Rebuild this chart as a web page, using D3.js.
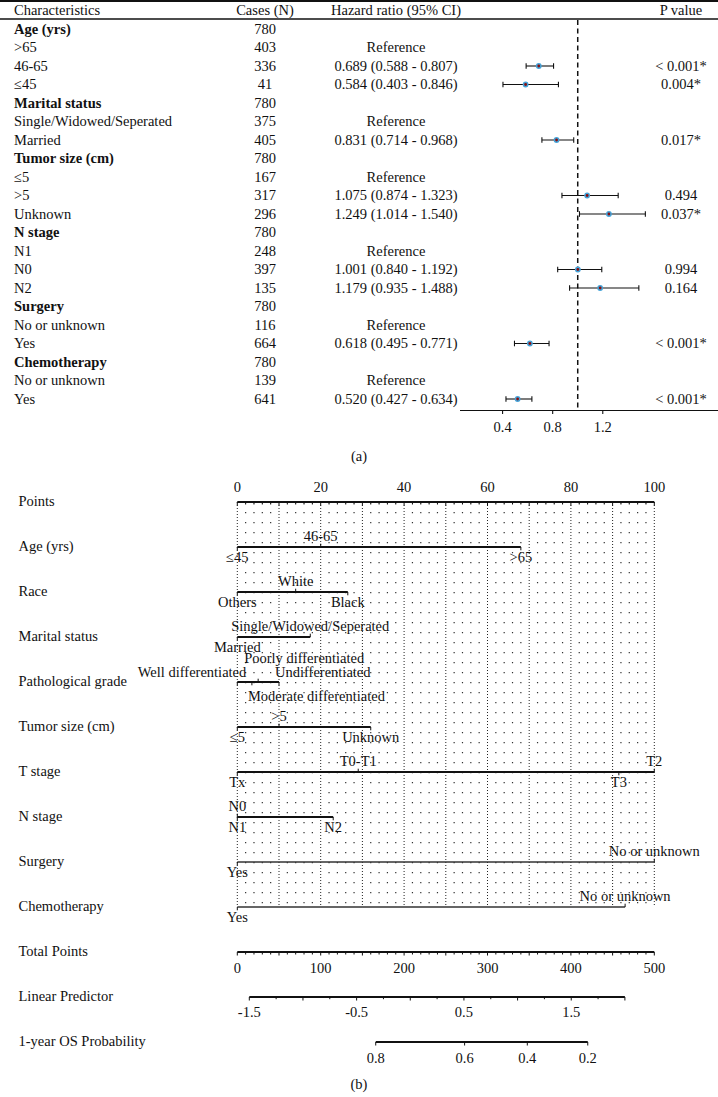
<!DOCTYPE html>
<html><head><meta charset="utf-8">
<script src="https://cdn.jsdelivr.net/npm/d3@7"></script>
<style>
html,body{margin:0;padding:0;background:#fff;}
svg{display:block;font-family:"Liberation Serif","Times New Roman",serif;}
</style></head><body>
<svg id="chart" width="718" height="1097"></svg>
<script>
// ================= DATA: (a) forest plot =================
const characteristics = ["Age (yrs)", ">65", "46-65", "≤45", "Marital status", "Single/Widowed/Seperated", "Married",
  "Tumor size (cm)", "≤5", ">5", "Unknown", "N stage", "N1", "N0", "N2", "Surgery", "No or unknown", "Yes",
  "Chemotherapy", "No or unknown", "Yes"];
const isGroupHeader = [true,false,false,false,true,false,false,true,false,false,false,true,false,false,false,true,false,false,true,false,false];
const cases = [780,403,336,41,780,375,405,780,167,317,296,780,248,397,135,780,116,664,780,139,641];
const hazardRatio = [null,null,0.689,0.584,null,null,0.831,null,null,1.075,1.249,null,null,1.001,1.179,null,null,0.618,null,null,0.520];
const ciLower =     [null,null,0.588,0.403,null,null,0.714,null,null,0.874,1.014,null,null,0.840,0.935,null,null,0.495,null,null,0.427];
const ciUpper =     [null,null,0.807,0.846,null,null,0.968,null,null,1.323,1.540,null,null,1.192,1.488,null,null,0.771,null,null,0.634];
const pValues = ["","","< 0.001*","0.004*","","","0.017*","","","0.494","0.037*","","","0.994","0.164","","","< 0.001*","","","< 0.001*"];
const forestTicks = [0.4, 0.8, 1.2];
const forestRefLine = 1;

// ================= DATA: (b) nomogram =================
const nomoVariables = ["Age (yrs)","Race","Marital status","Pathological grade","Tumor size (cm)","T stage","N stage","Surgery","Chemotherapy"];
const nomoLevels = [
  ["≤45","46-65",">65"],
  ["Others","White","Black"],
  ["Married","Single/Widowed/Seperated"],
  ["Well differentiated","Moderate differentiated","Poorly differentiated","Undifferentiated"],
  ["≤5",">5","Unknown"],
  ["Tx","T0-T1","T3","T2"],
  ["N1","N0","N2"],
  ["Yes","No or unknown"],
  ["Yes","No or unknown"]
];
const nomoPoints = [
  [0,20,68],
  [0,14,26.5],
  [0,17.5],
  [0,3.5,5,10],
  [0,10,32],
  [0,29,91.5,100],
  [0,0,23],
  [0,100],
  [0,93]
];
const pointsTicks = [0,20,40,60,80,100];
const totalPointsTicks = [0,100,200,300,400,500];
const linearPredictorTicks = [-1.5,-0.5,0.5,1.5];
const linearPredictorRange = [-1.5, 2.0];
const osProbTicks = [0.8,0.6,0.4,0.2];
const osLinearOffset = 1.178; // LP = log(-log(S)) + offset

// ================= DRAW =================
const svg = d3.select("#chart");
const FS = 14.5;
const ink = "#111";

function txt(g, x, y, s, anchor, bold) {
  return g.append("text").attr("x", x).attr("y", y).attr("text-anchor", anchor || "start")
    .attr("font-size", FS).attr("fill", ink).attr("font-weight", bold ? "bold" : "normal").text(s);
}

// ---------- (a) ----------
const gA = svg.append("g");
const xF = d3.scaleLinear().domain([0.06, 2.12]).range([460, 718]);
const rowBase = i => 33.5 + 18.5 * i;
const colChar = 14, colCases = 265, colHR = 396, colP = 681;

gA.append("line").attr("x1",0).attr("x2",718).attr("y1",1).attr("y2",1).attr("stroke",ink).attr("stroke-width",2);
gA.append("line").attr("x1",0).attr("x2",718).attr("y1",19).attr("y2",19).attr("stroke",ink).attr("stroke-width",1.5);
txt(gA, colChar, 15, "Characteristics");
txt(gA, colCases, 15, "Cases (N)", "middle");
txt(gA, colHR, 15, "Hazard ratio (95% CI)", "middle");
txt(gA, colP, 15, "P value", "middle");

const fmt = d3.format(".3f");
characteristics.forEach((c, i) => {
  const y = rowBase(i);
  txt(gA, colChar, y, c, "start", isGroupHeader[i]);
  txt(gA, colCases, y, String(cases[i]), "middle");
  if (!isGroupHeader[i]) {
    const s = hazardRatio[i] == null ? "Reference" :
      `${fmt(hazardRatio[i])} (${fmt(ciLower[i])} - ${fmt(ciUpper[i])})`;
    txt(gA, colHR, y, s, "middle");
  }
  if (pValues[i]) txt(gA, colP, y, pValues[i], "middle");
});

// reference dashed line
gA.append("line").attr("x1", xF(forestRefLine)).attr("x2", xF(forestRefLine))
  .attr("y1", 20).attr("y2", 410.5).attr("stroke", ink).attr("stroke-width", 1.5)
  .attr("stroke-dasharray", "5,3.5");

// CI bars & points
characteristics.forEach((c, i) => {
  if (hazardRatio[i] == null) return;
  const cy = rowBase(i) - 4.5;
  const g = gA.append("g");
  g.append("line").attr("x1", xF(ciLower[i])).attr("x2", xF(ciUpper[i])).attr("y1", cy).attr("y2", cy)
    .attr("stroke", ink).attr("stroke-width", 1.1);
  [ciLower[i], ciUpper[i]].forEach(v => g.append("line").attr("x1", xF(v)).attr("x2", xF(v))
    .attr("y1", cy - 2.8).attr("y2", cy + 2.8).attr("stroke", ink).attr("stroke-width", 1.1));
  g.append("circle").attr("cx", xF(hazardRatio[i])).attr("cy", cy).attr("r", 2.9).attr("fill", "#45a3d8");
  g.append("circle").attr("cx", xF(hazardRatio[i])).attr("cy", cy).attr("r", 1.4).attr("fill", "#8a1010");
});

// forest axis
const axY = 410.5;
gA.append("line").attr("x1", xF.range()[0]).attr("x2", xF.range()[1]).attr("y1", axY).attr("y2", axY)
  .attr("stroke", ink).attr("stroke-width", 1.2);
forestTicks.forEach(t => {
  gA.append("line").attr("x1", xF(t)).attr("x2", xF(t)).attr("y1", axY).attr("y2", axY + 3.5)
    .attr("stroke", ink).attr("stroke-width", 1.1);
  txt(gA, xF(t), axY + 21, String(t), "middle");
});
txt(gA, 359, 461, "(a)", "middle");

// ---------- (b) ----------
const gB = svg.append("g");
const xP = d3.scaleLinear().domain([0, 100]).range([237.3, 654.3]);
const xT = d3.scaleLinear().domain([0, 500]).range([237.3, 654.3]);
const xLP = d3.scaleLinear().domain(linearPredictorRange).range([249.3, 624.9]);
const xOS = p => xLP(Math.log(-Math.log(p)) + osLinearOffset);
const lineY = i => 502 + 45 * i;
const rowLabels = ["Points", ...nomoVariables, "Total Points", "Linear Predictor", "1-year OS Probability"];
rowLabels.forEach((s, i) => txt(gB, 18.5, lineY(i) + 3.5, s));

// grid (points every 2, dotted; every 10 denser)
const gridTop = lineY(0), gridBot = lineY(nomoVariables.length);
d3.range(0, 101, 2).forEach(p => {
  const major = p % 10 === 0;
  gB.append("line").attr("x1", xP(p)).attr("x2", xP(p)).attr("y1", gridTop).attr("y2", gridBot)
    .attr("stroke", major ? "#222" : "#333").attr("stroke-width", major ? 1 : 1.2)
    .attr("stroke-dasharray", major ? "1,2" : "1.2,8.8");
});

// Points axis
const pY = lineY(0);
gB.append("line").attr("x1", xP(0)).attr("x2", xP(100)).attr("y1", pY).attr("y2", pY).attr("stroke", ink).attr("stroke-width", 1.8);
d3.range(0, 101, 2).forEach(p => {
  gB.append("line").attr("x1", xP(p)).attr("x2", xP(p)).attr("y1", pY).attr("y2", pY + (p % 10 === 0 ? 3.5 : 2.5))
    .attr("stroke", ink).attr("stroke-width", 1);
});
pointsTicks.forEach(t => txt(gB, xP(t), pY - 10.5, String(t), "middle"));

// variable lines
const gradeLayout = [
  {anchor: "end", dx: 9, dy: -5, up: false},
  {anchor: "start", dx: -4, dy: 19, up: false},
  {anchor: "start", dx: -14, dy: -19, up: true},
  {anchor: "start", dx: -4, dy: -5, up: false}
];
nomoVariables.forEach((v, vi) => {
  const y = lineY(vi + 1);
  const pts = nomoPoints[vi];
  const lv = nomoLevels[vi];
  const thin = vi >= 7;
  gB.append("line").attr("x1", xP(d3.min(pts))).attr("x2", xP(d3.max(pts))).attr("y1", y).attr("y2", y)
    .attr("stroke", thin ? "#333" : ink).attr("stroke-width", thin ? 1.5 : 2);
  const order = d3.range(pts.length).sort((a, b) => pts[a] - pts[b] || a - b);
  order.forEach((li, k) => {
    let up = k % 2 === 1, anchor = "middle", dx = 0, dy = up ? -6.5 : 15;
    if (vi === 3) { const L = gradeLayout[li]; up = L.up; anchor = L.anchor; dx = L.dx; dy = L.dy; }
    const x = xP(pts[li]);
    gB.append("line").attr("x1", x).attr("x2", x).attr("y1", y).attr("y2", up ? y - 3.3 : y + 3.3)
      .attr("stroke", ink).attr("stroke-width", 1);
    txt(gB, x + dx, y + dy, lv[li], anchor);
  });
});

// Total points axis
const tY = lineY(10);
gB.append("line").attr("x1", xT(0)).attr("x2", xT(500)).attr("y1", tY).attr("y2", tY).attr("stroke", ink).attr("stroke-width", 1.8);
d3.range(0, 501, 10).forEach(t => {
  gB.append("line").attr("x1", xT(t)).attr("x2", xT(t)).attr("y1", tY).attr("y2", tY + (t % 50 === 0 ? 3.5 : 2.5))
    .attr("stroke", ink).attr("stroke-width", 1);
});
totalPointsTicks.forEach(t => txt(gB, xT(t), tY + 21, String(t), "middle"));

// Linear predictor axis
const lY = lineY(11);
gB.append("line").attr("x1", xLP(linearPredictorRange[0])).attr("x2", xLP(linearPredictorRange[1])).attr("y1", lY).attr("y2", lY)
  .attr("stroke", ink).attr("stroke-width", 1.8);
d3.range(linearPredictorRange[0], linearPredictorRange[1] + 0.001, 0.25).forEach(t => {
  const major = Math.abs(t * 2 - Math.round(t * 2)) < 1e-6;
  gB.append("line").attr("x1", xLP(t)).attr("x2", xLP(t)).attr("y1", lY).attr("y2", lY + (major ? 3.5 : 2.2))
    .attr("stroke", ink).attr("stroke-width", 1);
});
linearPredictorTicks.forEach(t => txt(gB, xLP(t), lY + 20, String(t), "middle"));

// OS probability axis
const oY = lineY(12);
gB.append("line").attr("x1", xOS(d3.max(osProbTicks))).attr("x2", xOS(d3.min(osProbTicks))).attr("y1", oY).attr("y2", oY)
  .attr("stroke", ink).attr("stroke-width", 1.8);
osProbTicks.forEach(t => {
  gB.append("line").attr("x1", xOS(t)).attr("x2", xOS(t)).attr("y1", oY).attr("y2", oY + 3.5).attr("stroke", ink).attr("stroke-width", 1);
  txt(gB, xOS(t), oY + 20.5, String(t), "middle");
});
txt(gB, 359, 1089, "(b)", "middle");
</script>
</body></html>
